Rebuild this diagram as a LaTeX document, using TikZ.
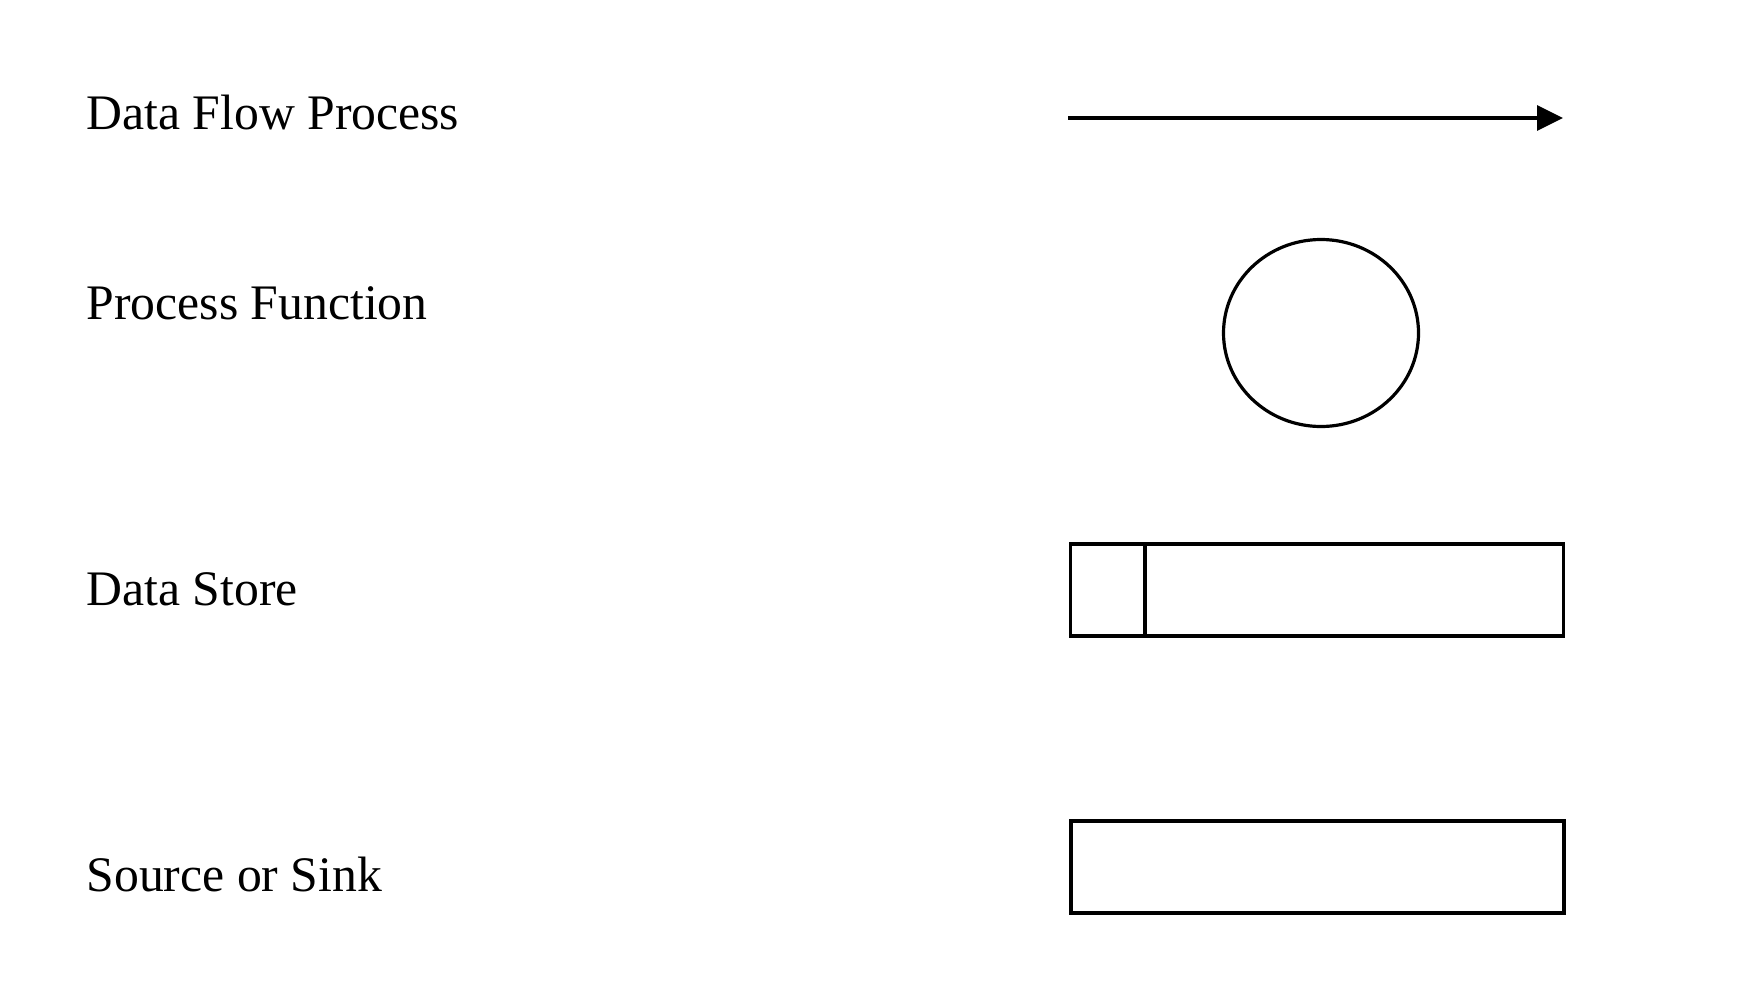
\documentclass[tikz,border=0pt]{standalone}
\usepackage{fontspec}
\setmainfont{Liberation Serif}
\usetikzlibrary{arrows.meta,shapes.geometric}

\begin{document}
\begin{tikzpicture}[x=1pt,y=-1pt,line width=3.2pt,
label/.style={anchor=base west,inner sep=0pt,font=\fontsize{49.7}{60}\selectfont},
process/.style={draw,ellipse,inner sep=0pt,minimum width=195pt,minimum height=187pt},
store/.style={draw,rectangle,inner sep=0pt,minimum width=493pt,minimum height=92pt},
flow/.style={-{Triangle[length=26pt,width=25pt]}}]
\useasboundingbox (0,0) rectangle (1752,985);
\node[label] (l-1) at (85,129) {Data Flow Process};
\node[label] (l-2) at (85,319) {Process Function};
\node[label] (l-3) at (85,605) {Data Store};
\node[label] (l-4) at (85,891) {Source or Sink};
\coordinate (f-a) at (1068,118);
\coordinate (f-b) at (1563,118);
\draw[flow] (f-a) -- (f-b);
\node[process] (p) at (1321,333) {};
\node[store] (s) at (1317,590) {};
\draw ([xshift=76pt]s.north west) -- ([xshift=76pt]s.south west);
\node[store] (e) at (1317.5,867) {};
\end{tikzpicture}
\end{document}
